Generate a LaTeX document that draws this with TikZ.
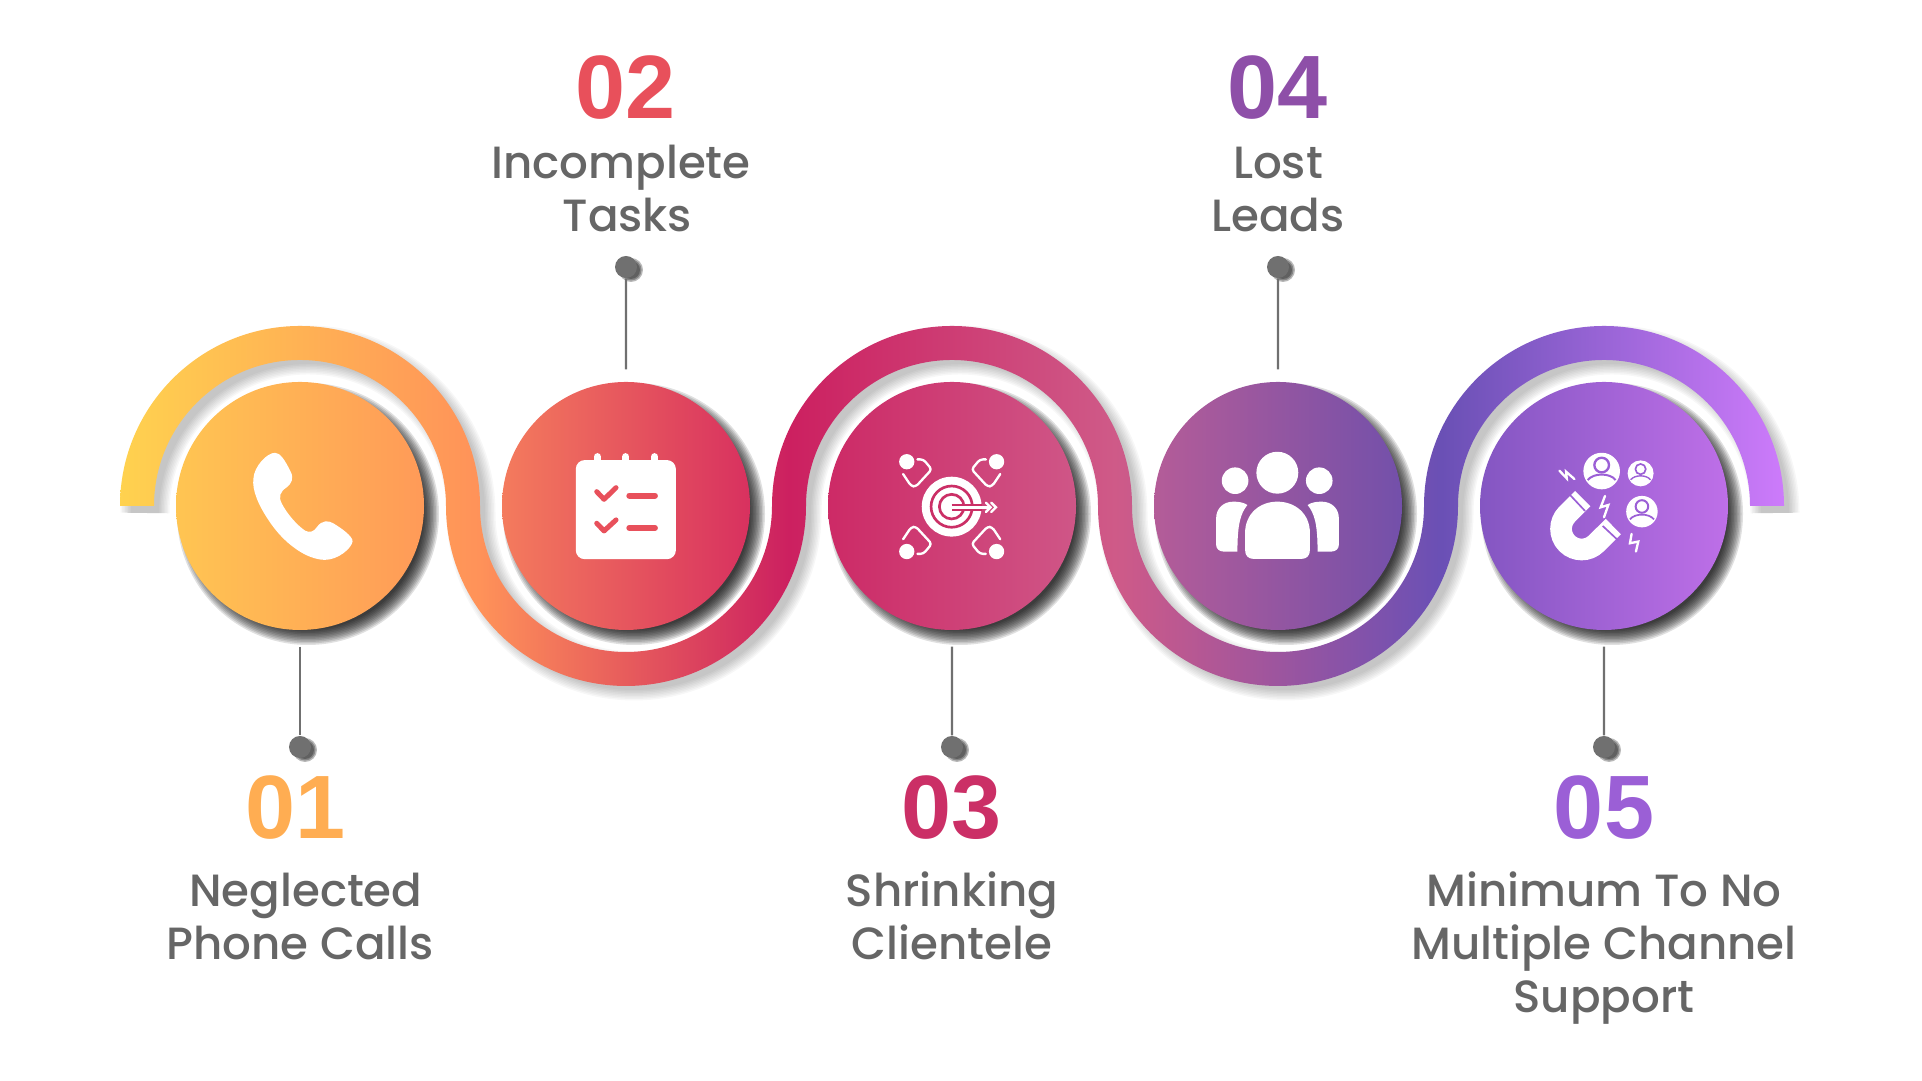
\documentclass[tikz,border=0pt]{standalone}
\usepackage{fontspec}
\usetikzlibrary{positioning}
\newfontfamily\capfont{Poppins Medium}
\newfontfamily\numfont{Liberation Sans Bold}

\definecolor{textgrey}{HTML}{666666}
\definecolor{pingrey}{HTML}{707070}
\definecolor{ribA}{HTML}{FFD24F}
\definecolor{ribB}{HTML}{FF9259}
\definecolor{ribC}{HTML}{CC2060}
\definecolor{ribD}{HTML}{CF5A88}
\definecolor{ribE}{HTML}{6A50B5}
\definecolor{ribF}{HTML}{CD7BFB}
\definecolor{discA}{HTML}{FFC552}
\definecolor{discB}{HTML}{FF9A58}
\definecolor{discC}{HTML}{F47B5D}
\definecolor{discD}{HTML}{D8315F}
\definecolor{discE}{HTML}{CD2A66}
\definecolor{discF}{HTML}{CF5687}
\definecolor{discG}{HTML}{B45C98}
\definecolor{discH}{HTML}{7350AA}
\definecolor{discI}{HTML}{8456C2}
\definecolor{discJ}{HTML}{BE6FE8}
\definecolor{numA}{HTML}{FFAD52}
\definecolor{numB}{HTML}{E8505B}
\definecolor{numC}{HTML}{CB2F66}
\definecolor{numD}{HTML}{8E4FA8}
\definecolor{numE}{HTML}{9B5FD6}

\pgfdeclarehorizontalshading{ribbonfade}{100bp}{%
  color(0bp)=(ribA); color(25bp)=(ribA); color(35.8bp)=(ribB); color(45.1bp)=(ribC);
  color(54.9bp)=(ribD); color(64.7bp)=(ribE); color(75bp)=(ribF); color(100bp)=(ribF)}

% one icon pixel, for line widths
\def\zp{.0948pt}

\tikzset{
  disc/.style={circle,minimum size=2.48cm,inner sep=0pt},
  pindot/.style={circle,fill=pingrey,minimum size=.22cm,inner sep=0pt},
  stem/.style={draw=pingrey,line width=.7pt},
  caption/.style={align=center,text=textgrey,font=\capfont\fontsize{12.85}{15.1}\selectfont},
  number/.style={font=\numfont\fontsize{25.6}{28}\selectfont},
  icon/.style={x=.003333cm,y=-.003333cm},
}

\begin{document}
\begin{tikzpicture}[auto,node distance=3.26cm]
    \useasboundingbox (0,0) rectangle (19.22,10.81);

    % shadows first
    \foreach \w in {-.06,-.03,0,.03,.06,.09,.12,.15}
      \draw[black,opacity=.03,line width=(.34+\w)*1cm,shift={(.08,-.07)}] (1.37,5.75)
        arc[start angle=180,end angle=0,radius=1.63] arc[start angle=180,end angle=360,radius=1.63]
        arc[start angle=180,end angle=0,radius=1.63] arc[start angle=180,end angle=360,radius=1.63]
        arc[start angle=180,end angle=0,radius=1.63];
    \foreach \x in {3,6.26,9.52,12.78,16.04}
      \foreach \s in {-.08,-.065,-.05,-.035,-.02,-.005,.01,.025,.04,.055,.07}
        \fill[black,opacity=.12] (\x+.08,5.67) circle (1.24+\s);

    % ribbon
    \path[shading=ribbonfade] (1.20,5.75)
      arc[start angle=180,end angle=0,radius=1.80] arc[start angle=180,end angle=360,radius=1.46]
      arc[start angle=180,end angle=0,radius=1.80] arc[start angle=180,end angle=360,radius=1.46]
      arc[start angle=180,end angle=0,radius=1.80] -- (17.50,5.75)
      arc[start angle=0,end angle=180,radius=1.46] arc[start angle=0,end angle=-180,radius=1.80]
      arc[start angle=0,end angle=180,radius=1.46] arc[start angle=0,end angle=-180,radius=1.80]
      arc[start angle=0,end angle=180,radius=1.46] -- cycle;

    % discs
    \node[disc,left color=discA,right color=discB] (c1) at (3,5.75) {};
    \node[disc,left color=discC,right color=discD] (c2) [right of=c1] {};
    \node[disc,left color=discE,right color=discF] (c3) [right of=c2] {};
    \node[disc,left color=discG,right color=discH] (c4) [right of=c3] {};
    \node[disc,left color=discI,right color=discJ] (c5) [right of=c4] {};

    % pins
    \foreach \n/\x/\y in {1/3.00/3.34,2/6.26/8.14,3/9.52/3.34,4/12.78/8.14,5/16.04/3.34} {
      \foreach \s in {-.02,-.005,.01}
        \fill[black,opacity=.28] (\x+.05,\y-.03) circle (.11+\s);
      \node[pindot] (p\n) at (\x,\y) {};
    }
    \path[stem] ([yshift=-.16cm]c1.south) -- (p1);
    \path[stem] ([yshift=.12cm]c2.north) -- (p2);
    \path[stem] ([yshift=-.16cm]c3.south) -- (p3);
    \path[stem] ([yshift=.12cm]c4.north) -- (p4);
    \path[stem] ([yshift=-.16cm]c5.south) -- (p5);

    % texts
    \node[number,text=numA] (n1) at (2.96,2.73) {01};
    \node[number,text=numB] (n2) at (6.26,9.93) {02};
    \node[number,text=numC] (n3) at (9.52,2.73) {03};
    \node[number,text=numD] (n4) at (12.78,9.93) {04};
    \node[number,text=numE] (n5) at (16.04,2.73) {05};
    \node[caption] (t1) at (3,1.645) {Neglected\hspace*{-.26em}\\Phone Calls};
    \node[caption] (t2) at (6.21,8.925) {Incomplete\\\hspace*{.28em}Tasks};
    \node[caption] (t3) at (9.52,1.655) {Shrinking\\Clientele};
    \node[caption] (t4) at (12.78,8.91) {Lost\\Leads};
    \node[caption] (t5) at (16.04,1.33) {Minimum To No\\Multiple Channel\\Support};

    % phone
    \begin{scope}[shift={(c1)},icon,shift={(-210,-228)}]
      \fill[white] (135,68) .. controls (150,68) and (165,90) .. (182,125)
        .. controls (192,145) and (185,160) .. (170,172) .. controls (150,185) and (145,200) .. (155,220)
        .. controls (170,250) and (200,285) .. (225,302) .. controls (240,310) and (252,305) .. (262,290)
        .. controls (275,272) and (295,270) .. (310,280) .. controls (335,295) and (370,320) .. (368,335)
        .. controls (365,355) and (325,390) .. (285,390) .. controls (230,390) and (160,340) .. (115,270)
        .. controls (85,225) and (65,180) .. (70,145) .. controls (72,110) and (110,68) .. (135,68) -- cycle;
    \end{scope}

    % task list
    \begin{scope}[shift={(c2)},icon,shift={(-198,-198)}]
      \fill[white,rounded corners=.09cm] (47,60) rectangle (348,358);
      \foreach \x in {112,197,284}
        \draw[white,line width=22*\zp,line cap=round] (\x,50) -- (\x,70);
      \draw[numB,line width=15*\zp,line cap=round,line join=round] (110,155) -- (132,178) -- (168,143);
      \draw[numB,line width=15*\zp,line cap=round,line join=round] (110,250) -- (132,273) -- (168,240);
      \draw[numB,line width=18*\zp,line cap=round] (208,167) -- (285,167);
      \draw[numB,line width=18*\zp,line cap=round] (208,264) -- (285,264);
    \end{scope}

    % target
    \begin{scope}[shift={(c3)},icon,shift={(-276,-228)}]
      \fill[white] (275,230) circle (90);
      \draw[numC,line width=8*\zp] (275,230) circle (62);
      \draw[numC,line width=8*\zp] (275,230) circle (37);
      \draw[numC,line width=20*\zp] (275,232) -- (365,232);
      \draw[white,line width=8*\zp,line cap=round] (275,232) -- (385,232);
      \draw[white,line width=7*\zp,line cap=round] (378,218) -- (392,232) -- (378,246);
      \draw[white,line width=7*\zp,line cap=round] (394,218) -- (408,232) -- (394,246);
      \foreach \sx/\sy in {1/1,-1/1,1/-1,-1/-1} {
        \begin{scope}[shift={(275,230)},xscale=\sx,yscale=\sy]
          \fill[white] (-135,-135) circle (23);
          \draw[white,line width=7*\zp,line cap=round,line join=round,rounded corners=.03cm]
            (-103,-142) -- (-85,-142) -- (-60,-112) -- (-108,-60) -- (-122,-62) -- (-146,-98);
        \end{scope}
      }
    \end{scope}

    % people
    \begin{scope}[shift={(c4)},icon,shift={(-234,-198)}]
      \fill[white] (232,98) circle (63);
      \fill[white] (105,122) circle (40);
      \fill[white] (358,122) circle (40);
      \fill[white] (135,330) -- (135,280) .. controls (135,220) and (180,185) .. (232,185)
        .. controls (285,185) and (330,220) .. (330,280) -- (330,330)
        .. controls (330,348) and (320,357) .. (305,357) -- (160,357)
        .. controls (145,357) and (135,348) .. (135,330) -- cycle;
      \fill[white] (48,315) -- (48,235) .. controls (48,205) and (70,185) .. (100,185)
        .. controls (115,185) and (130,187) .. (142,195) .. controls (122,220) and (112,250) .. (112,335)
        -- (70,335) .. controls (58,335) and (48,327) .. (48,315) -- cycle;
      \fill[white] (417,315) -- (417,235) .. controls (417,205) and (395,185) .. (365,185)
        .. controls (350,185) and (335,187) .. (323,195) .. controls (343,220) and (353,250) .. (353,335)
        -- (395,335) .. controls (407,335) and (417,327) .. (417,315) -- cycle;
    \end{scope}

    % magnet
    \begin{scope}[shift={(c5)},icon,shift={(-222,-228)}]
      \draw[white,line width=65*\zp] (158,206) -- (111,253)
        arc[start angle=225,end angle=45,radius=62] -- (250,290);
      \draw[numE,line width=5*\zp] (120,195) -- (165,243);
      \draw[numE,line width=5*\zp] (218,288) -- (265,332);
      \foreach \a/\b/\r in {215/123/1,332/130/.71,336/245/.86} {
        \begin{scope}[shift={(\a,\b)},scale=\r]
          \fill[white] (0,0) circle (55);
          \draw[numE,line width=7*\r*\zp] (0,-18) circle (22);
          \draw[numE,line width=6*\r*\zp] (-42,27) .. controls (-25,5) and (25,5) .. (42,27);
        \end{scope}
      }
      \draw[white,line width=7*\zp,line cap=round] (88,122) -- (110,145) -- (108,125) -- (133,147);
      \draw[white,line width=7*\zp,line cap=round] (225,198) -- (212,232) -- (235,225) -- (222,262);
      \draw[white,line width=7*\zp,line cap=round] (305,312) -- (300,340) -- (325,335) -- (318,365);
    \end{scope}
\end{tikzpicture}
\end{document}
